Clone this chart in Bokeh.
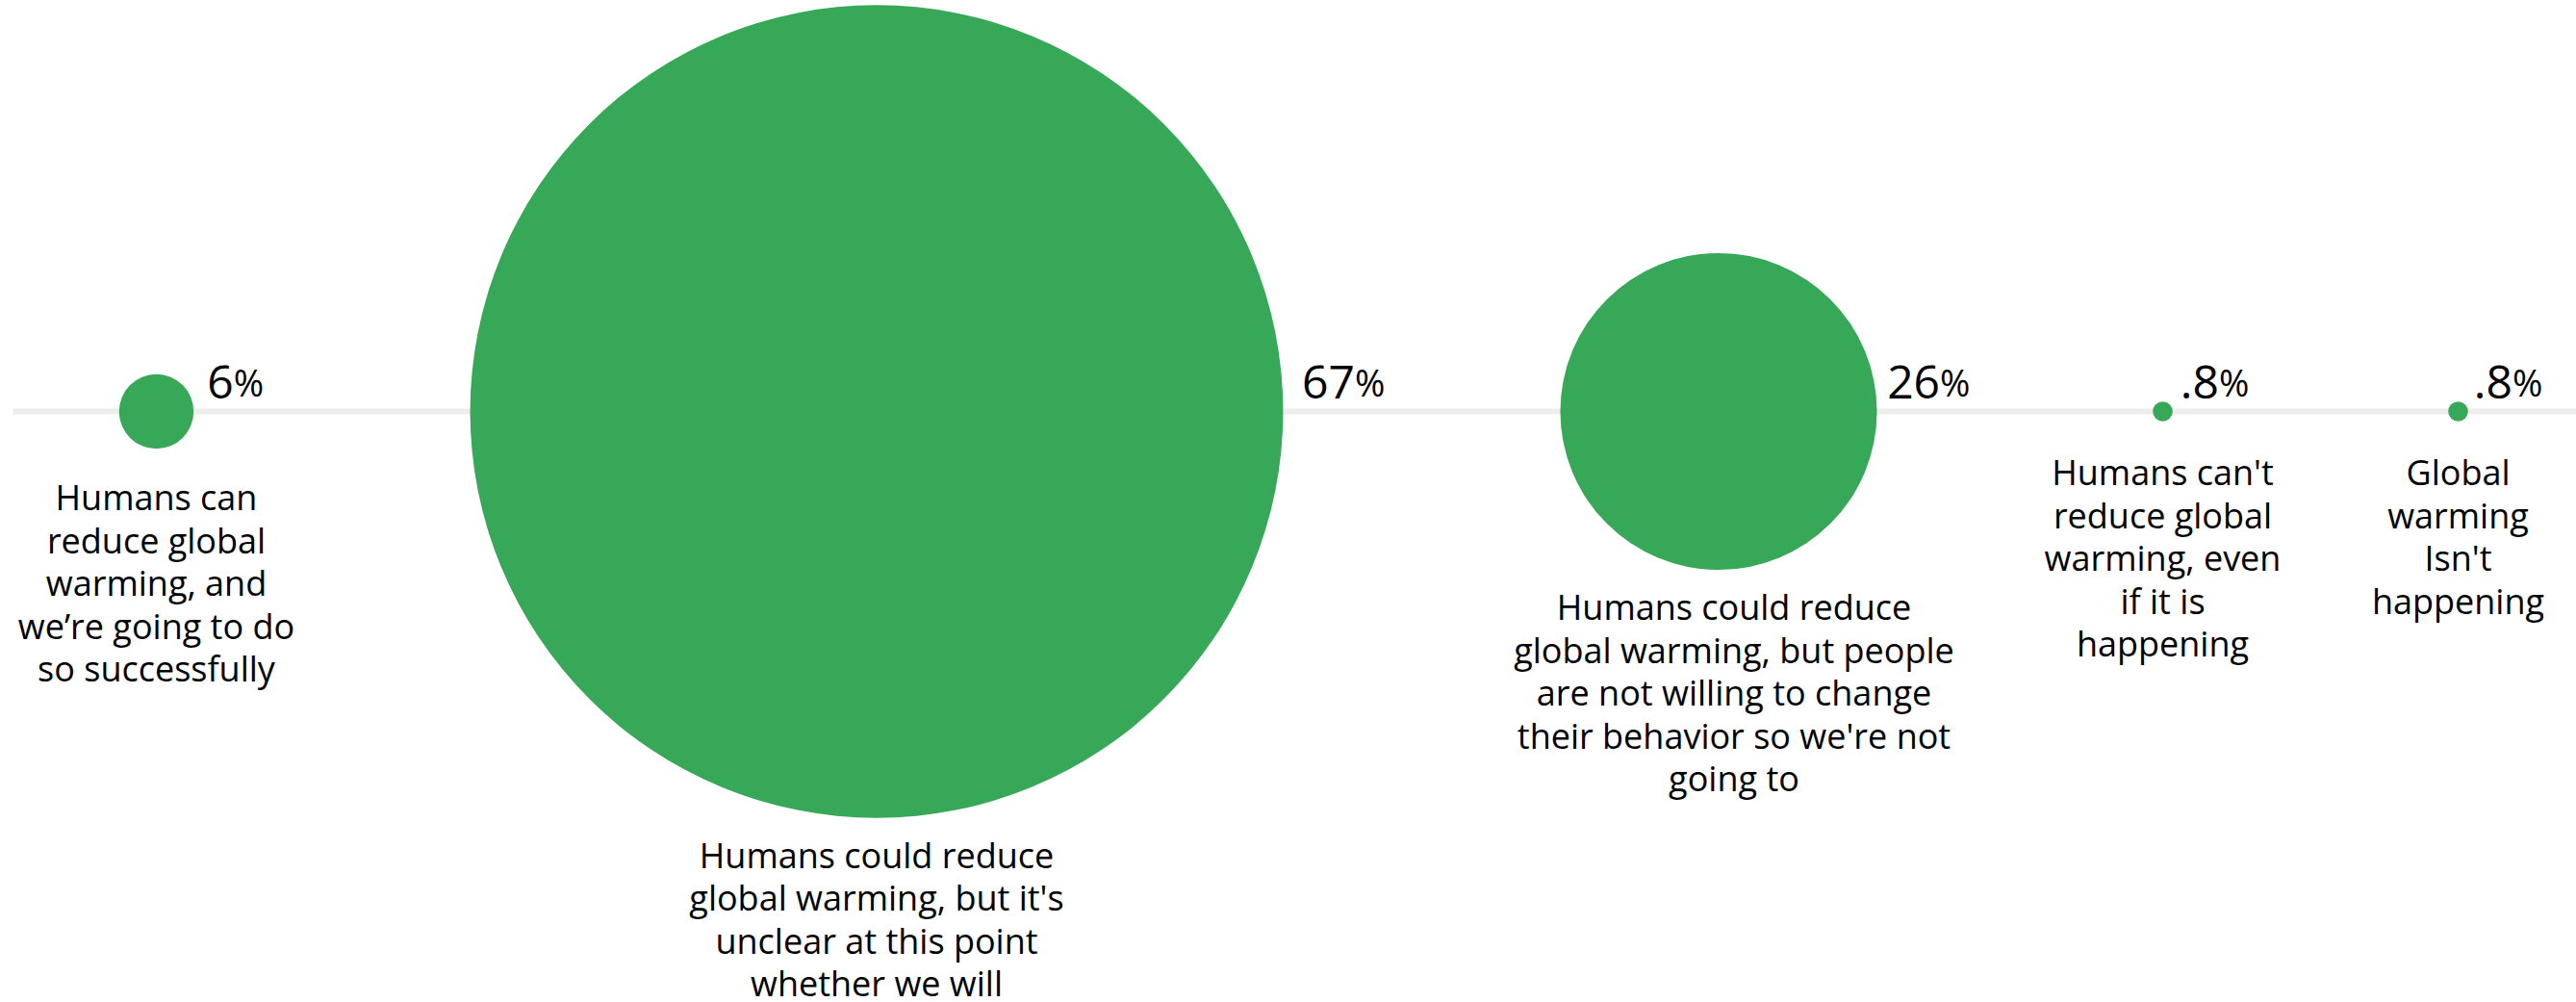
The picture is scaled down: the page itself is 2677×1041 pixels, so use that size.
from bokeh.plotting import figure
from bokeh.models import Range1d, ColumnDataSource
from bokeh.core.properties import value
from bokeh.embed import file_html
from bokeh.resources import INLINE

# ---- data ----
categories = [
    "Humans can\nreduce global\nwarming, and\nwe\u2019re going to do\nso successfully",
    "Humans could reduce\nglobal warming, but it's\nunclear at this point\nwhether we will",
    "Humans could reduce\nglobal warming, but people\nare not willing to change\ntheir behavior so we're not\ngoing to",
    "Humans can't\nreduce global\nwarming, even\nif it is\nhappening",
    "Global\nwarming\nIsn't\nhappening",
]
percent_values = [6, 67, 26, 0.8, 0.8]
percent_labels = ["6", "67", "26", ".8", ".8"]

# ---- layout (pixels) ----
W, H = 2677, 1041
axis_y = 427
center_x = [162, 910.5, 1785.5, 2247, 2554]
radius_base, radius_per_point, radius_min = 1.0, 6.29, 10.3
pct_gap = [14, 19.6, 10.6, 8, 6]          # from circle edge to number anchor
label_gap = [65.5, 53.5, 53.5, 68, 68]    # from circle bottom to first baseline
label_dx = [0, 0, 16, 0, 0]
pct_baseline_above = 16
num_size, pct_size, label_size = 48, 38, 36
line_step = 44.5
baseline_fix = 15   # renderer places "alphabetic" text lower than the true baseline

green = "#37a857"
line_color = "#eeedeb"

radii = [max(radius_base + radius_per_point * v, radius_min) for v in percent_values]


def advance(s, size):
    w = 0.0
    for ch in s:
        w += (0.266 if ch == "." else 0.572) * size
    return w


num_x = [cx + r + g for cx, r, g in zip(center_x, radii, pct_gap)]
sym_x = [nx + advance(t, num_size) for nx, t in zip(num_x, percent_labels)]
pct_y = [axis_y - pct_baseline_above - baseline_fix] * len(percent_values)

src = ColumnDataSource(dict(
    cx=center_x, cy=[axis_y] * len(center_x), r=radii,
    num_x=num_x, sym_x=sym_x, pct_y=pct_y,
    num=percent_labels, sym=["%"] * len(percent_labels),
))

lx, ly, lt = [], [], []
for cx, r, g, dx, lab in zip(center_x, radii, label_gap, label_dx, categories):
    for i, line in enumerate(lab.split("\n")):
        lx.append(cx + dx)
        ly.append(axis_y + r + g + i * line_step - baseline_fix)
        lt.append(line)
lab_src = ColumnDataSource(dict(x=lx, y=ly, t=lt))

p = figure(width=W, height=H, output_backend="svg", toolbar_location=None,
           x_range=Range1d(0, W), y_range=Range1d(H, 0),
           x_axis_type=None, y_axis_type=None, min_border=0,
           background_fill_color="white", border_fill_color="white")
p.outline_line_color = None
p.grid.visible = False

p.segment(x0=[13], y0=[axis_y], x1=[W], y1=[axis_y], line_width=6, line_color=line_color)

p.circle(x="cx", y="cy", radius="r", radius_dimension="x", source=src,
         fill_color=green, line_color=None)

p.text(x="num_x", y="pct_y", text="num", source=src,
       text_font=value("Open Sans"), text_font_size=value(f"{num_size}px"),
       text_align="left", text_baseline="alphabetic", text_color="#000000")
p.text(x="sym_x", y="pct_y", text="sym", source=src,
       text_font=value("Open Sans"), text_font_size=value(f"{pct_size}px"),
       text_align="left", text_baseline="alphabetic", text_color="#000000")

p.text(x="x", y="y", text="t", source=lab_src,
       text_font=value("Open Sans"), text_font_size=value(f"{label_size}px"),
       text_align="center", text_baseline="alphabetic", text_color="#000000")

open("out.html", "w").write(file_html(p, INLINE))
